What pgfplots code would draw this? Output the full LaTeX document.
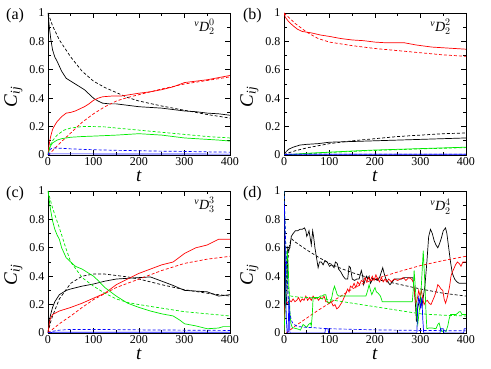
\documentclass[border=0pt]{standalone}
\usepackage{fontspec}
\setmainfont{Liberation Serif}
\usepackage{amsmath}
\usepackage{pgfplots}
\pgfplotsset{compat=1.18}

\definecolor{lred}{RGB}{255,0,0}
\definecolor{lgreen}{RGB}{0,235,0}
\definecolor{lblue}{RGB}{0,0,255}

\pgfplotsset{
  panel/.style={
    width=182pt, height=142pt, scale only axis, anchor=south west,
    clip mode=individual,
    xmin=0, xmax=400, ymin=0, ymax=1,
    xtick={0,100,200,300,400}, ytick={0,0.2,0.4,0.6,0.8,1},
    minor x tick num=1, minor y tick num=1,
    tick align=inside, major tick length=5pt, minor tick length=3pt,
    tick pos=both, axis line style={line width=0.8pt},
    every tick/.style={black, line width=0.6pt},
    tick label style={font=\fontsize{12}{12}\selectfont},
    xticklabel style={yshift=1pt},
    /pgf/number format/assume math mode=true,
    xlabel={\textit{t}}, ylabel={\textit{C}\textsubscript{\textit{ij}}},
    xlabel style={at={(axis description cs:0.5,-0.148)}, anchor=center,
      font=\fontsize{19}{19}\selectfont},
    ylabel style={at={(axis description cs:-0.19,0.41)}, anchor=center,
      font=\fontsize{19}{19}\selectfont},
  },
  sol/.style={line width=0.7pt, no marks},
  das/.style={line width=0.7pt, no marks, dash pattern=on 3pt off 2pt},
}
\tikzset{
  plab/.style={font=\fontsize{16}{16}\selectfont},
  ann/.style={font=\fontsize{14}{14}\selectfont},
}

\begin{document}
\begin{tikzpicture}
\useasboundingbox (0,0) rectangle (491pt,369pt);

% (a)
\begin{axis}[panel, at={(48pt,214pt)}]
\addplot[sol, black] coordinates {(0,1)(3,0.9)(6,0.82)(10,0.74)(15,0.69)(20,0.66)(30,0.59)(40,0.54)(50,0.52)(60,0.5)(70,0.48)(80,0.46)(90,0.43)(100,0.40)(110,0.38)(120,0.365)(135,0.36)(150,0.36)(175,0.35)(200,0.34)(225,0.335)(250,0.33)(275,0.32)(300,0.31)(325,0.305)(350,0.295)(375,0.29)(400,0.28)};
\addplot[das, black] coordinates {(0,1)(10,0.91)(25,0.81)(50,0.69)(75,0.59)(100,0.52)(125,0.475)(150,0.44)(175,0.405)(200,0.38)(250,0.345)(300,0.315)(350,0.285)(400,0.26)};
\addplot[sol, lred] coordinates {(0,0)(2,0.06)(5,0.12)(10,0.18)(15,0.21)(20,0.235)(30,0.27)(40,0.295)(50,0.30)(60,0.31)(70,0.325)(80,0.34)(90,0.36)(100,0.385)(110,0.40)(120,0.41)(140,0.415)(160,0.415)(180,0.425)(200,0.435)(225,0.445)(250,0.46)(275,0.48)(300,0.51)(325,0.52)(350,0.53)(375,0.545)(400,0.56)};
\addplot[das, lred] coordinates {(0,0)(10,0.03)(25,0.08)(50,0.155)(75,0.23)(100,0.29)(125,0.34)(150,0.38)(175,0.405)(200,0.425)(250,0.465)(300,0.50)(350,0.525)(400,0.55)};
\addplot[sol, lgreen] coordinates {(0,0)(5,0.06)(10,0.085)(20,0.105)(30,0.115)(50,0.125)(75,0.13)(100,0.133)(150,0.14)(175,0.145)(200,0.15)(225,0.145)(250,0.14)(275,0.13)(300,0.12)(325,0.115)(350,0.11)(375,0.105)(400,0.098)};
\addplot[das, lgreen] coordinates {(0,0)(5,0.07)(10,0.1)(20,0.14)(35,0.175)(50,0.19)(75,0.2)(100,0.2)(125,0.198)(150,0.19)(200,0.175)(250,0.16)(300,0.145)(350,0.13)(400,0.12)};
\addplot[sol, lblue] coordinates {(0,0)(5,0.008)(50,0.008)(400,0.006)};
\addplot[das, lblue] coordinates {(0,0)(5,0.04)(10,0.05)(25,0.048)(50,0.043)(100,0.037)(150,0.033)(200,0.03)(250,0.027)(300,0.025)(350,0.022)(400,0.02)};
\node[plab] at (axis description cs:-0.181,0.979) {(a)};
\node[ann] at (axis description cs:0.86,0.9) {${}^{\text{\textit{v}}}\text{\textit{D}}_{2}^{0}$};
\end{axis}

% (b)
\begin{axis}[panel, at={(284pt,214pt)}]
\addplot[sol, black] coordinates {(0,0)(5,0.025)(10,0.04)(20,0.055)(35,0.07)(50,0.075)(75,0.08)(100,0.09)(150,0.095)(200,0.10)(250,0.105)(300,0.11)(350,0.115)(400,0.12)};
\addplot[das, black] coordinates {(0,0)(10,0.015)(25,0.03)(50,0.05)(75,0.065)(100,0.08)(150,0.1)(200,0.115)(250,0.13)(300,0.14)(350,0.15)(400,0.155)};
\addplot[sol, lred] coordinates {(0,1)(3,0.97)(10,0.94)(20,0.91)(30,0.885)(40,0.87)(60,0.86)(80,0.845)(100,0.835)(125,0.82)(150,0.81)(175,0.805)(200,0.795)(225,0.79)(265,0.79)(290,0.775)(325,0.76)(350,0.755)(375,0.75)(400,0.745)};
\addplot[das, lred] coordinates {(0,1)(10,0.97)(25,0.925)(50,0.865)(75,0.82)(100,0.795)(150,0.77)(200,0.75)(250,0.735)(300,0.72)(350,0.705)(400,0.695)};
\addplot[sol, lgreen] coordinates {(0,0)(50,0.012)(100,0.02)(150,0.028)(200,0.035)(250,0.04)(300,0.045)(350,0.05)(400,0.055)};
\addplot[das, lgreen] coordinates {(0,0)(100,0.018)(200,0.032)(300,0.043)(400,0.052)};
\addplot[sol, lblue] coordinates {(0,0)(10,0.005)(400,0.005)};
\addplot[das, lblue] coordinates {(0,0)(10,0.006)(400,0.006)};
\node[plab] at (axis description cs:-0.174,0.979) {(b)};
\node[ann] at (axis description cs:0.86,0.9) {${}^{\text{\textit{v}}}\text{\textit{D}}_{2}^{2}$};
\end{axis}

% (c)
\begin{axis}[panel, at={(48pt,36pt)}]
\addplot[sol, black] coordinates {(0,0)(3,0.08)(5,0.12)(10,0.18)(15,0.22)(25,0.27)(40,0.3)(50,0.31)(75,0.33)(100,0.345)(125,0.365)(150,0.38)(175,0.385)(200,0.39)(225,0.395)(250,0.365)(275,0.335)(300,0.30)(325,0.295)(350,0.29)(375,0.26)(400,0.27)};
\addplot[das, black] coordinates {(0,0)(5,0.07)(10,0.12)(25,0.24)(50,0.35)(75,0.40)(100,0.415)(125,0.415)(150,0.405)(175,0.395)(200,0.38)(250,0.34)(300,0.305)(350,0.28)(400,0.26)};
\addplot[sol, lred] coordinates {(0,0)(3,0.07)(5,0.1)(10,0.13)(25,0.155)(50,0.18)(75,0.21)(100,0.245)(125,0.28)(150,0.34)(175,0.38)(200,0.42)(225,0.45)(250,0.48)(275,0.5)(300,0.56)(325,0.6)(350,0.62)(375,0.66)(400,0.66)};
\addplot[das, lred] coordinates {(0,0)(25,0.065)(50,0.12)(75,0.18)(100,0.235)(150,0.32)(200,0.38)(250,0.44)(300,0.49)(350,0.52)(400,0.54)};
\addplot[sol, lgreen] coordinates {(0,1)(3,0.93)(5,0.88)(10,0.79)(15,0.73)(20,0.69)(25,0.66)(30,0.6)(40,0.53)(50,0.5)(60,0.47)(75,0.45)(90,0.42)(100,0.40)(110,0.37)(125,0.32)(150,0.26)(175,0.21)(200,0.18)(225,0.155)(250,0.135)(275,0.12)(290,0.09)(300,0.065)(325,0.05)(350,0.03)(375,0.035)(385,0.045)(400,0.045)};
\addplot[das, lgreen] coordinates {(0,1)(10,0.88)(25,0.74)(40,0.59)(50,0.5)(75,0.39)(100,0.33)(125,0.28)(150,0.24)(175,0.215)(200,0.2)(250,0.175)(300,0.15)(350,0.135)(400,0.12)};
\addplot[sol, lblue] coordinates {(0,0)(10,0.005)(400,0.005)};
\addplot[das, lblue] coordinates {(0,0)(10,0.012)(25,0.02)(50,0.025)(100,0.025)(200,0.022)(300,0.02)(400,0.018)};
\node[plab] at (axis description cs:-0.181,0.979) {(c)};
\node[ann] at (axis description cs:0.86,0.9) {${}^{\text{\textit{v}}}\text{\textit{D}}_{3}^{3}$};
\end{axis}

% (d)
\begin{axis}[panel, at={(284pt,36pt)}]
\addplot[sol, black] coordinates {(0,0)(2,0.6)(4,0.2)(6,0.2)(8,0.6)(10,0.58)(13,0.6)(16,0.68)(20,0.7)(25,0.72)(30,0.72)(35,0.73)(40,0.73)(45,0.74)(48,0.72)(50,0.68)(53,0.70)(55,0.72)(58,0.66)(60,0.62)(63,0.72)(65,0.68)(68,0.6)(70,0.56)(73,0.5)(75,0.46)(78,0.5)(82,0.5)(86,0.48)(90,0.51)(95,0.5)(100,0.47)(105,0.48)(110,0.46)(113,0.5)(117,0.49)(120,0.45)(125,0.43)(130,0.40)(135,0.38)(140,0.38)(143,0.47)(146,0.46)(150,0.38)(155,0.37)(160,0.38)(165,0.38)(170,0.44)(173,0.40)(175,0.34)(178,0.37)(181,0.40)(184,0.38)(187,0.40)(190,0.35)(195,0.38)(200,0.38)(205,0.37)(210,0.39)(214,0.43)(217,0.46)(220,0.42)(224,0.38)(228,0.36)(233,0.34)(238,0.36)(243,0.38)(250,0.38)(258,0.38)(265,0.39)(275,0.39)(283,0.39)(286,0.32)(289,0.2)(291,0.08)(294,0.18)(297,0.22)(300,0.25)(303,0.19)(306,0.25)(310,0.34)(314,0.5)(318,0.68)(322,0.73)(326,0.7)(330,0.65)(334,0.62)(338,0.6)(342,0.63)(346,0.67)(350,0.72)(355,0.74)(358,0.7)(362,0.6)(366,0.5)(370,0.42)(375,0.38)(380,0.36)(385,0.35)(390,0.35)(395,0.35)(400,0.35)};
\addplot[das, black] coordinates {(0,0)(4,0.3)(8,0.5)(12,0.62)(16,0.665)(25,0.64)(50,0.585)(75,0.535)(100,0.49)(125,0.455)(150,0.425)(175,0.40)(200,0.38)(250,0.345)(300,0.31)(350,0.28)(400,0.26)};
\addplot[sol, lred] coordinates {(0,0)(2,0.2)(5,0.22)(8,0.21)(12,0.23)(16,0.22)(20,0.24)(24,0.22)(28,0.23)(32,0.25)(36,0.22)(40,0.24)(44,0.23)(48,0.26)(52,0.23)(56,0.25)(60,0.23)(64,0.26)(68,0.24)(72,0.25)(76,0.23)(80,0.25)(84,0.24)(88,0.26)(92,0.22)(96,0.22)(100,0.21)(104,0.22)(108,0.19)(112,0.2)(116,0.17)(120,0.18)(124,0.2)(128,0.22)(132,0.25)(136,0.28)(140,0.31)(143,0.29)(146,0.33)(150,0.32)(154,0.35)(158,0.32)(162,0.36)(166,0.34)(170,0.37)(174,0.36)(178,0.39)(182,0.36)(186,0.39)(190,0.37)(194,0.4)(198,0.37)(202,0.41)(206,0.38)(210,0.36)(214,0.39)(218,0.36)(222,0.38)(226,0.36)(230,0.38)(236,0.36)(242,0.38)(250,0.37)(256,0.38)(262,0.39)(268,0.37)(274,0.39)(280,0.38)(284,0.36)(287,0.28)(290,0.21)(293,0.24)(296,0.3)(299,0.26)(302,0.3)(305,0.24)(308,0.2)(311,0.22)(315,0.23)(319,0.21)(323,0.2)(327,0.23)(331,0.26)(335,0.3)(338,0.34)(341,0.33)(345,0.31)(349,0.3)(352,0.24)(355,0.21)(358,0.24)(361,0.28)(364,0.33)(367,0.4)(370,0.43)(373,0.45)(377,0.48)(381,0.5)(385,0.49)(389,0.47)(393,0.5)(397,0.5)(400,0.5)};
\addplot[das, lred] coordinates {(5,0)(25,0.05)(50,0.105)(75,0.16)(100,0.21)(125,0.26)(150,0.31)(175,0.35)(200,0.38)(250,0.43)(300,0.475)(350,0.51)(400,0.54)};
\addplot[sol, lgreen] coordinates {(0,0)(3,0.2)(5,0.45)(7,0.58)(9,0.5)(11,0.3)(13,0.15)(15,0.07)(18,0.04)(22,0.035)(28,0.03)(33,0.025)(36,0.02)(39,0.04)(42,0.06)(46,0.05)(50,0.04)(54,0.06)(58,0.07)(60,0.05)(62,0.12)(64,0.25)(70,0.25)(76,0.25)(80,0.26)(84,0.26)(88,0.27)(92,0.27)(95,0.22)(98,0.21)(102,0.22)(105,0.25)(108,0.3)(111,0.33)(114,0.3)(117,0.27)(120,0.26)(140,0.26)(160,0.26)(180,0.26)(184,0.3)(187,0.34)(190,0.3)(193,0.27)(197,0.3)(200,0.32)(203,0.29)(207,0.28)(212,0.26)(216,0.22)(240,0.22)(260,0.22)(282,0.22)(284,0.3)(286,0.44)(288,0.35)(290,0.25)(292,0.1)(294,0.06)(297,0.15)(300,0.22)(303,0.4)(306,0.58)(308,0.45)(310,0.32)(312,0.15)(314,0.03)(318,0.035)(326,0.035)(334,0.03)(338,0.06)(341,0.07)(344,0.03)(347,0.01)(352,0.02)(356,0.01)(360,0.05)(363,0.1)(366,0.13)(370,0.13)(378,0.13)(382,0.14)(385,0.15)(388,0.15)(391,0.13)(395,0.13)(400,0.13)};
\addplot[das, lgreen] coordinates {(0,1)(2,0.8)(4,0.6)(6,0.45)(8,0.35)(11,0.29)(15,0.26)(25,0.255)(50,0.25)(75,0.245)(100,0.235)(150,0.21)(200,0.185)(250,0.16)(300,0.135)(350,0.125)(400,0.12)};
\addplot[sol, lblue] coordinates {(0,0.9)(1,0.9)(3,0.5)(5,0.1)(7,0)(9,0)(11,0.25)(13,0)(20,0)(90,0)(91,0.03)(97,0.03)(98,0)(292,0)(294,0.2)(296,0.25)(300,0.18)(303,0.25)(305,0.1)(307,0)(343,0)(344,0.03)(350,0.03)(351,0)(395,0)(396,0.03)(400,0.03)};
\addplot[das, lblue] coordinates {(0,1)(2,0.8)(4,0.6)(6,0.45)(8,0.32)(10,0.22)(13,0.14)(16,0.09)(20,0.065)(30,0.045)(50,0.04)(75,0.035)(100,0.03)(150,0.026)(200,0.022)(300,0.018)(400,0.015)};
\node[plab] at (axis description cs:-0.174,0.979) {(d)};
\node[ann] at (axis description cs:0.86,0.89) {${}^{\text{\textit{v}}}\text{\textit{D}}_{2}^{4}$};
\end{axis}
\end{tikzpicture}
\end{document}
